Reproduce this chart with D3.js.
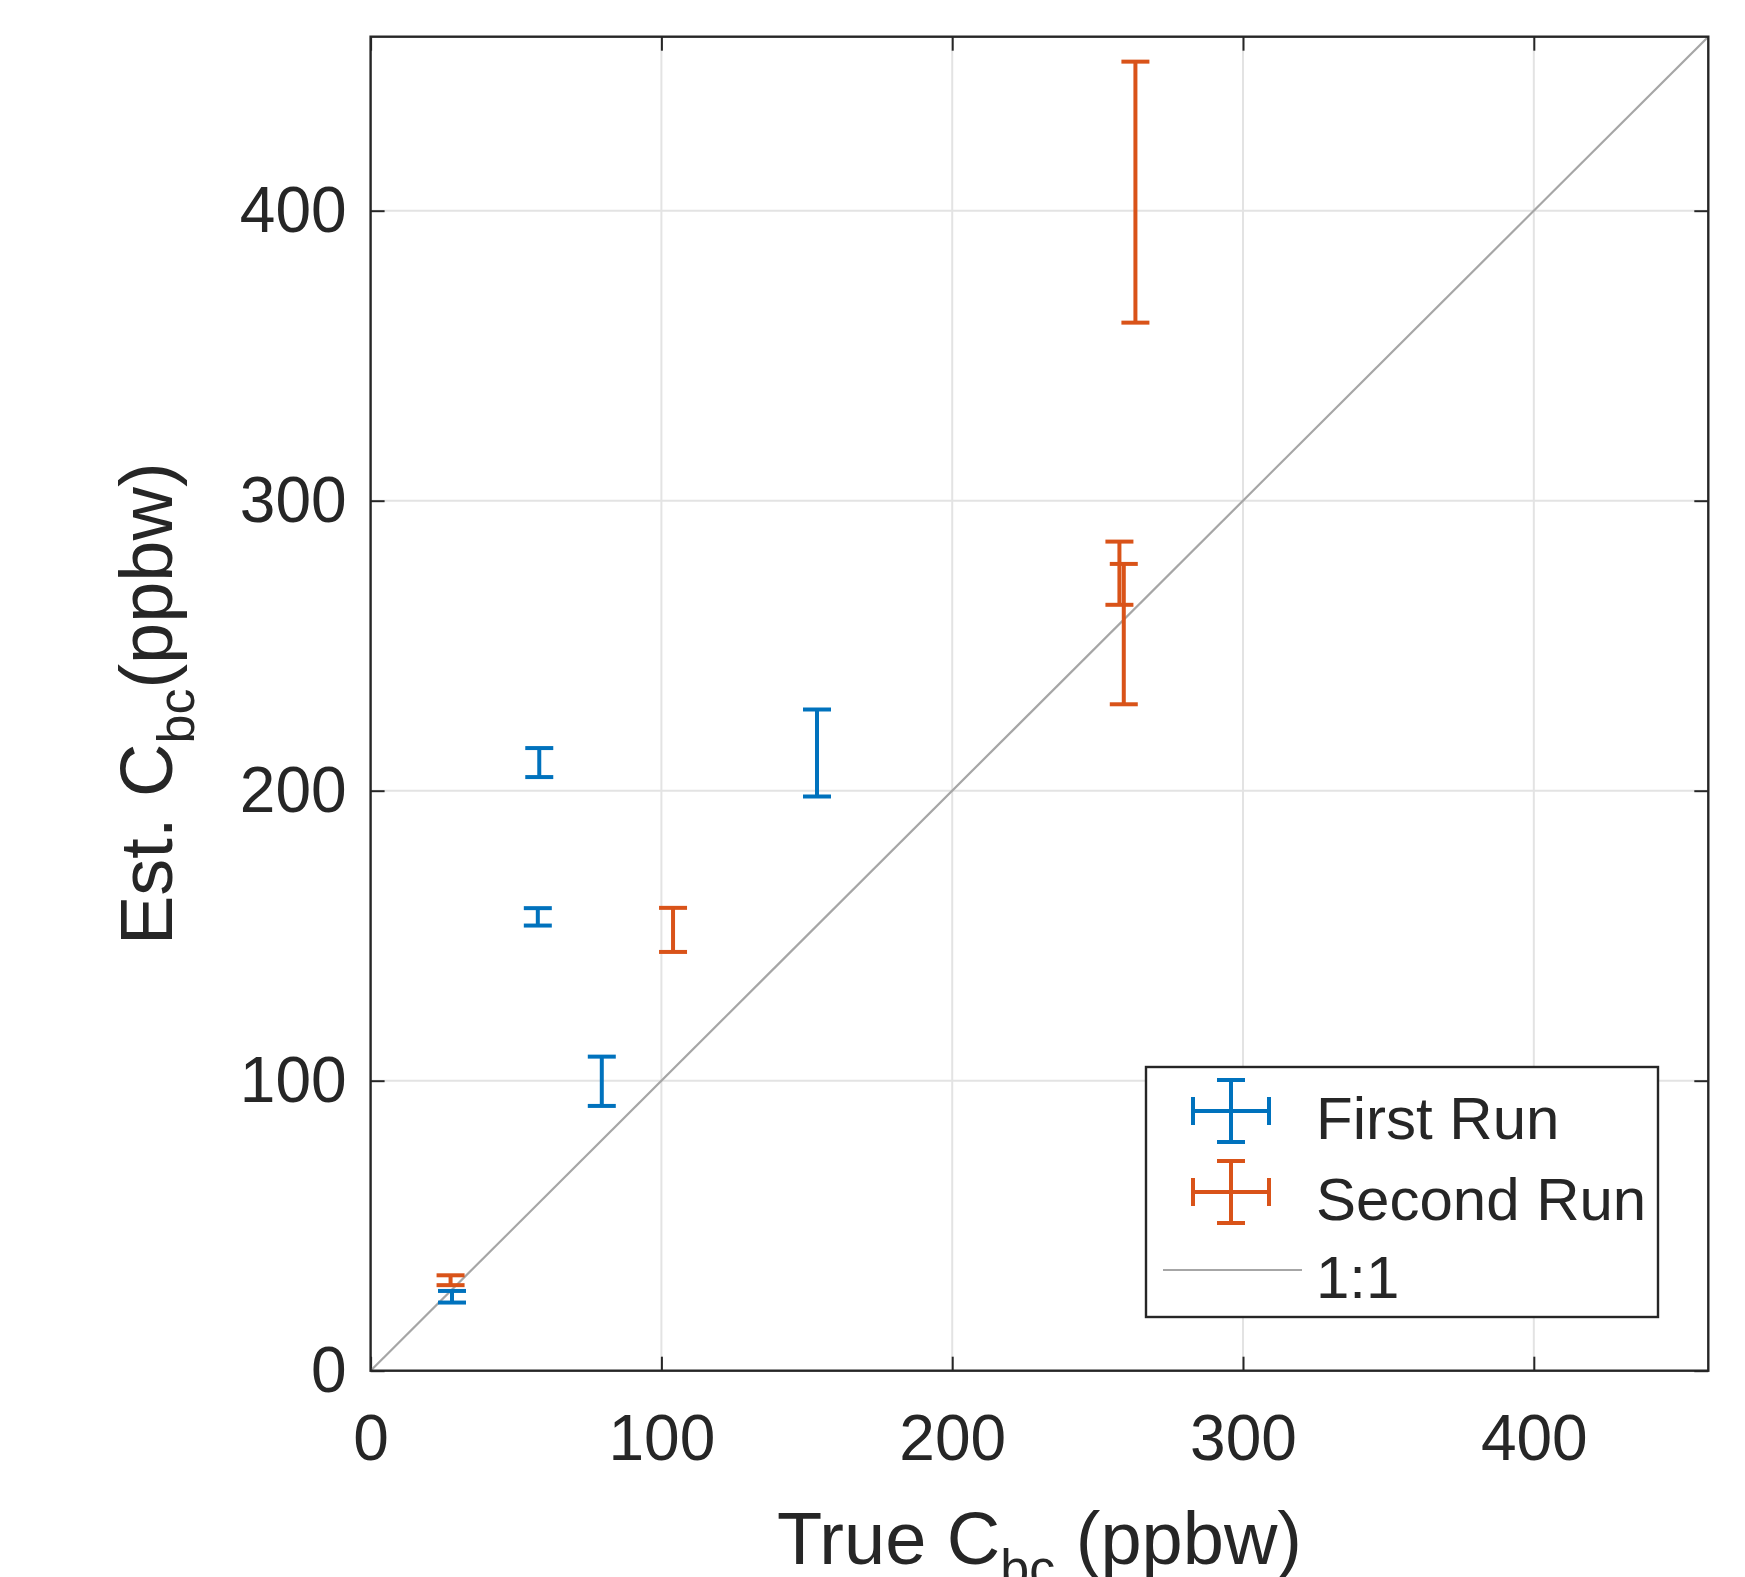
<!DOCTYPE html>
<html>
<head>
<meta charset="utf-8">
<script src="https://cdn.jsdelivr.net/npm/d3@7"></script>
<style>
  body { margin: 0; background: #fff; }
  text { font-family: "Liberation Sans", Arial, Helvetica, sans-serif; fill: #262626; }
</style>
</head>
<body>
<script>
// series values
let firstX = [28, 58, 57.5, 79.5, 153.5];
let firstY = [25.5, 209.7, 156.5, 99.8, 213];
let firstErr = [2, 5, 3, 8.5, 15];

let secondX = [27.5, 104, 263, 257.5, 259];
let secondY = [31.2, 152, 406.4, 275, 254];
let secondErr = [1.7, 7.6, 45, 10.9, 24.2];

let tickValues = [0, 100, 200, 300, 400];
let seriesNames = ["First Run", "Second Run", "1:1"];

const width = 1745, height = 1577;
const plotLeft = 370.6, plotRight = 1708.3, plotTop = 36.7, plotBottom = 1370.7;
const blue = "#0072BD", orange = "#D95319";

let xScale = d3.scaleLinear().domain([0, 460]).range([plotLeft, plotRight]);
let yScale = d3.scaleLinear().domain([0, 460]).range([plotBottom, plotTop]);

let svg = d3.select("body").append("svg")
    .attr("width", width).attr("height", height);

// grid
svg.append("g").selectAll("line")
    .data(tickValues.slice(1)).enter().append("line")
    .attr("x1", d => xScale(d)).attr("x2", d => xScale(d))
    .attr("y1", plotTop).attr("y2", plotBottom)
    .attr("stroke", "#e3e3e3").attr("stroke-width", 2);
svg.append("g").selectAll("line")
    .data(tickValues.slice(1)).enter().append("line")
    .attr("x1", plotLeft).attr("x2", plotRight)
    .attr("y1", d => yScale(d)).attr("y2", d => yScale(d))
    .attr("stroke", "#e3e3e3").attr("stroke-width", 2);

// axes with inward ticks (box on)
function styleAxis(g) {
    g.select(".domain").remove();
    g.selectAll(".tick line").attr("stroke", "#262626").attr("stroke-width", 2);
    g.selectAll(".tick text").style("font-size", "64px").attr("fill", "#262626");
}
svg.append("g").attr("transform", `translate(0,${plotBottom})`)
    .call(d3.axisBottom(xScale).tickValues(tickValues).tickSizeInner(-14).tickPadding(44))
    .call(styleAxis);
svg.append("g").attr("transform", `translate(${plotLeft},0)`)
    .call(d3.axisLeft(yScale).tickValues(tickValues).tickSizeInner(-14).tickPadding(24))
    .call(styleAxis);
svg.append("g").attr("transform", `translate(0,${plotTop})`)
    .call(d3.axisTop(xScale).tickValues(tickValues).tickSizeInner(-14).tickFormat(""))
    .call(styleAxis);
svg.append("g").attr("transform", `translate(${plotRight},0)`)
    .call(d3.axisRight(yScale).tickValues(tickValues).tickSizeInner(-14).tickFormat(""))
    .call(styleAxis);

// 1:1 line
svg.append("line")
    .attr("x1", xScale(0)).attr("y1", yScale(0))
    .attr("x2", xScale(460)).attr("y2", yScale(460))
    .attr("stroke", "#a6a6a6").attr("stroke-width", 2.2);

// error bars
const cap = 14;
function drawBars(xs, ys, errs, color) {
    let data = xs.map((x, i) => ({x: x, y: ys[i], e: errs[i]}));
    let g = svg.append("g").attr("stroke", color).attr("stroke-width", 4).attr("fill", "none");
    let bar = g.selectAll("g").data(data).enter().append("g");
    bar.append("line")
        .attr("x1", d => xScale(d.x)).attr("x2", d => xScale(d.x))
        .attr("y1", d => yScale(d.y - d.e)).attr("y2", d => yScale(d.y + d.e));
    bar.append("line")
        .attr("x1", d => xScale(d.x) - cap).attr("x2", d => xScale(d.x) + cap)
        .attr("y1", d => yScale(d.y + d.e)).attr("y2", d => yScale(d.y + d.e));
    bar.append("line")
        .attr("x1", d => xScale(d.x) - cap).attr("x2", d => xScale(d.x) + cap)
        .attr("y1", d => yScale(d.y - d.e)).attr("y2", d => yScale(d.y - d.e));
}
drawBars(firstX, firstY, firstErr, blue);
drawBars(secondX, secondY, secondErr, orange);

// box
svg.append("rect")
    .attr("x", plotLeft).attr("y", plotTop)
    .attr("width", plotRight - plotLeft).attr("height", plotBottom - plotTop)
    .attr("fill", "none").attr("stroke", "#262626").attr("stroke-width", 2.4);

// axis labels
let xl = svg.append("text")
    .attr("x", (plotLeft + plotRight) / 2).attr("y", 1564)
    .attr("text-anchor", "middle").style("font-size", "74px");
xl.append("tspan").text("True C");
xl.append("tspan").attr("dy", 22).style("font-size", "52px").text("bc");
xl.append("tspan").attr("dy", -22).text(" (ppbw)");

let yl = svg.append("text")
    .attr("transform", `translate(172,${(plotTop + plotBottom) / 2}) rotate(-90)`)
    .attr("text-anchor", "middle").style("font-size", "74px");
yl.append("tspan").text("Est. C");
yl.append("tspan").attr("dy", 22).style("font-size", "52px").text("bc");
yl.append("tspan").attr("dy", -22).text("(ppbw)");

// legend
let lg = svg.append("g");
lg.append("rect")
    .attr("x", 1146).attr("y", 1067).attr("width", 512).attr("height", 250)
    .attr("fill", "#fff").attr("stroke", "#262626").attr("stroke-width", 2.4);
const legendY = [1111, 1192, 1270];
[blue, orange].forEach((c, i) => {
    let g = lg.append("g").attr("stroke", c).attr("stroke-width", 4);
    let cx = 1231, cy = legendY[i];
    g.append("line").attr("x1", cx - 38).attr("x2", cx + 38).attr("y1", cy).attr("y2", cy);
    g.append("line").attr("x1", cx).attr("x2", cx).attr("y1", cy - 31).attr("y2", cy + 31);
    g.append("line").attr("x1", cx - 14).attr("x2", cx + 14).attr("y1", cy - 31).attr("y2", cy - 31);
    g.append("line").attr("x1", cx - 14).attr("x2", cx + 14).attr("y1", cy + 31).attr("y2", cy + 31);
    g.append("line").attr("x1", cx - 38).attr("x2", cx - 38).attr("y1", cy - 14).attr("y2", cy + 14);
    g.append("line").attr("x1", cx + 38).attr("x2", cx + 38).attr("y1", cy - 14).attr("y2", cy + 14);
});
lg.append("line").attr("x1", 1163).attr("x2", 1302)
    .attr("y1", legendY[2]).attr("y2", legendY[2])
    .attr("stroke", "#a6a6a6").attr("stroke-width", 2.2);
lg.selectAll("text.leg").data(seriesNames).enter().append("text")
    .attr("x", 1316).attr("y", (d, i) => legendY[i] + 28)
    .style("font-size", "60px").text(d => d);
</script>
</body>
</html>
